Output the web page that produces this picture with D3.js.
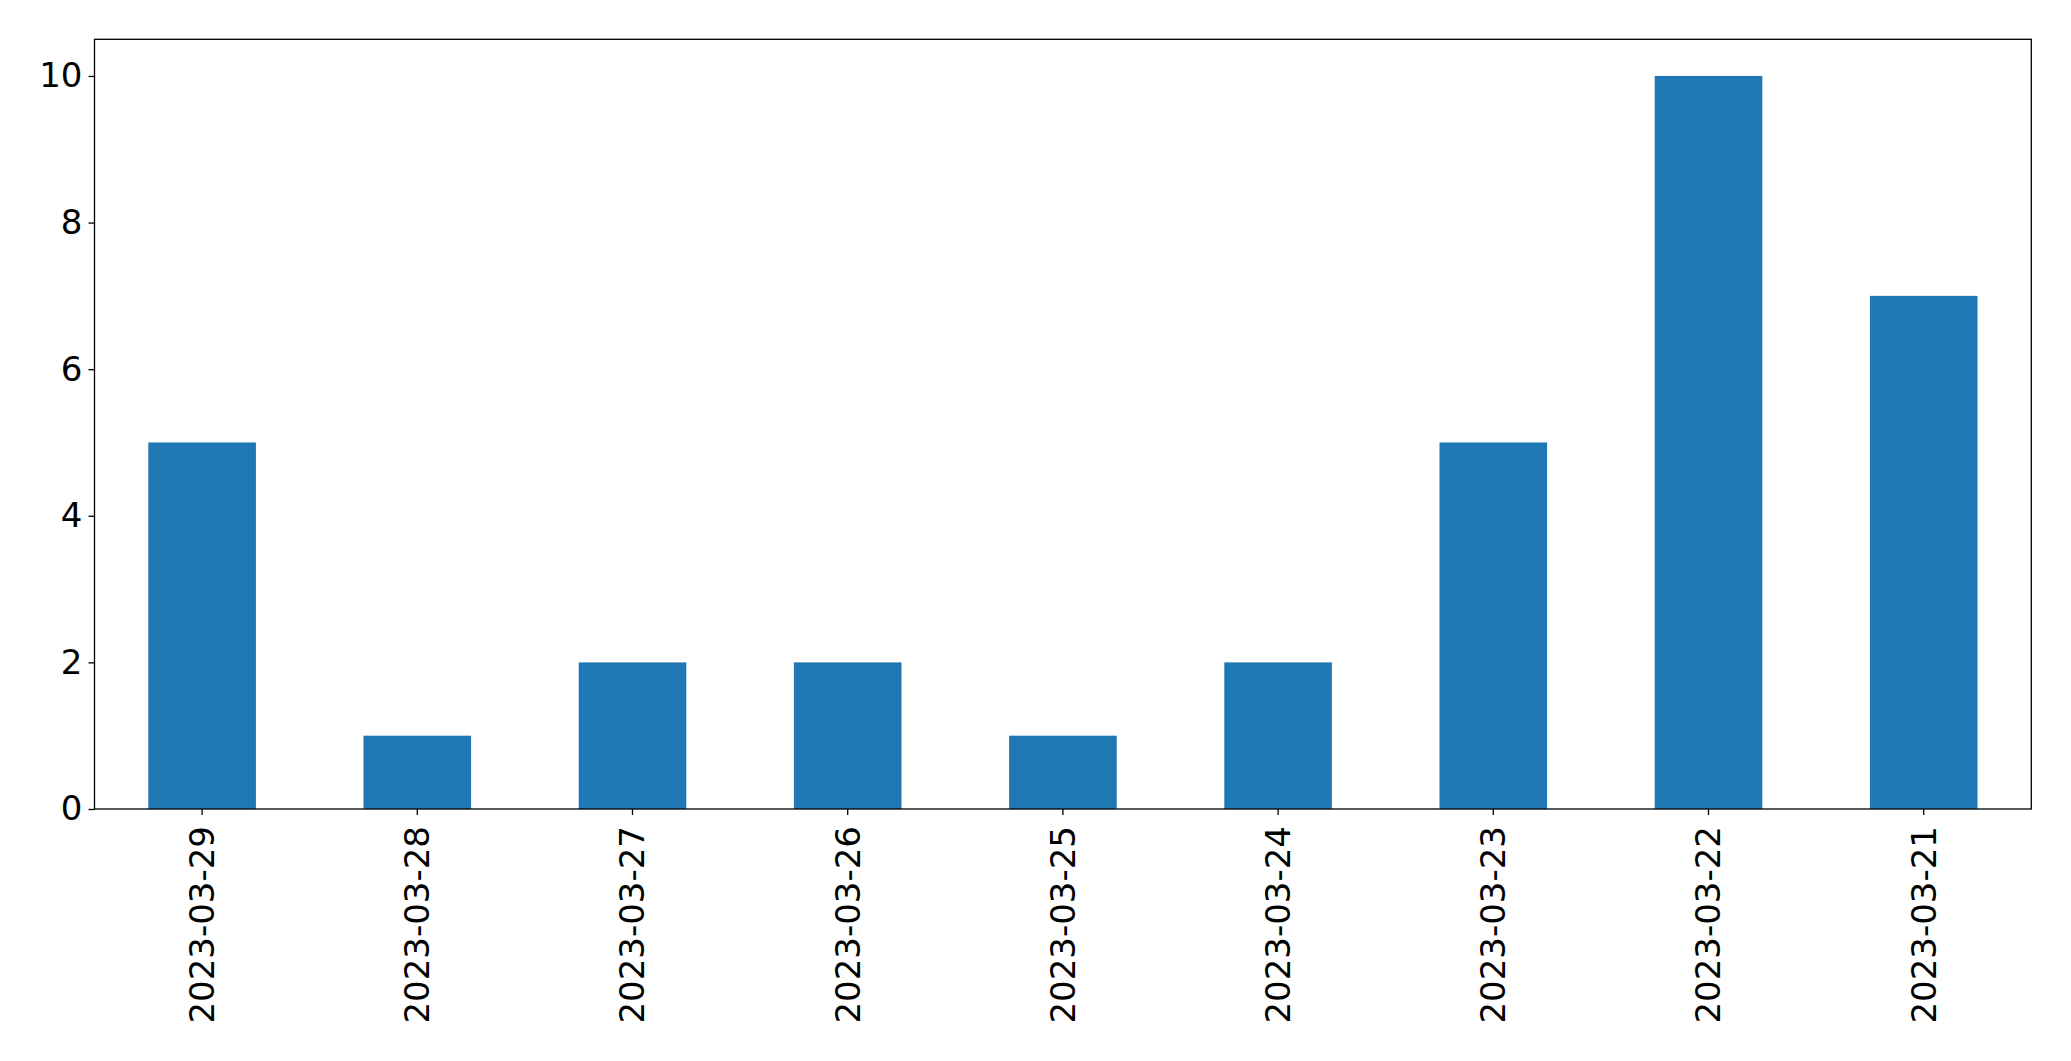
<!DOCTYPE html>
<html><head><meta charset="utf-8">
<script src="https://cdn.jsdelivr.net/npm/d3@7"></script>
<style>body{margin:0;background:#fff}svg{display:block}</style>
</head><body>
<script>
const categories = ["2023-03-29","2023-03-28","2023-03-27","2023-03-26","2023-03-25","2023-03-24","2023-03-23","2023-03-22","2023-03-21"];
const values = [5,1,2,2,1,2,5,10,7];
const yTicks = [0,2,4,6,8,10];

const W = 2071, H = 1061;
const m = {left:94.5, right:W-2031.3, top:39.3, bottom:H-809};
const svg = d3.select("body").append("svg").attr("width",W).attr("height",H);
const x = d3.scaleBand().domain(categories).range([m.left, W-m.right]).paddingInner(0.5).paddingOuter(0.25);
const y = d3.scaleLinear().domain([0,10.5]).range([H-m.bottom, m.top]);
const font = "DejaVu Sans";
const fs = 34;

svg.append("g").selectAll("rect").data(values).join("rect")
  .attr("x",(d,i)=>x(categories[i])).attr("width",x.bandwidth())
  .attr("y",d=>y(d)).attr("height",d=>y(0)-y(d)).attr("fill","#1f77b4");

const ya = svg.append("g").attr("transform",`translate(${m.left},0)`)
  .call(d3.axisLeft(y).tickValues(yTicks).tickSize(6).tickPadding(6).tickFormat(d3.format("d")));
ya.select(".domain").remove();
ya.selectAll("text").attr("font-family",font).attr("font-size",fs).attr("fill","#000");
ya.selectAll("line").attr("stroke","#000").attr("stroke-width",1.3);

const xa = svg.append("g").attr("transform",`translate(0,${H-m.bottom})`)
  .call(d3.axisBottom(x).tickSize(6).tickPadding(0));
xa.select(".domain").remove();
xa.selectAll("line").attr("stroke","#000").attr("stroke-width",1.3);
xa.selectAll("text").attr("font-family",font).attr("font-size",fs).attr("fill","#000")
  .attr("transform","rotate(-90)").attr("text-anchor","end").attr("dy","0.35em")
  .attr("x",-17).attr("y",0);

svg.append("rect").attr("x",m.left).attr("y",m.top).attr("width",W-m.right-m.left).attr("height",H-m.bottom-m.top)
  .attr("fill","none").attr("stroke","#000").attr("stroke-width",1.3);
</script>
</body></html>
